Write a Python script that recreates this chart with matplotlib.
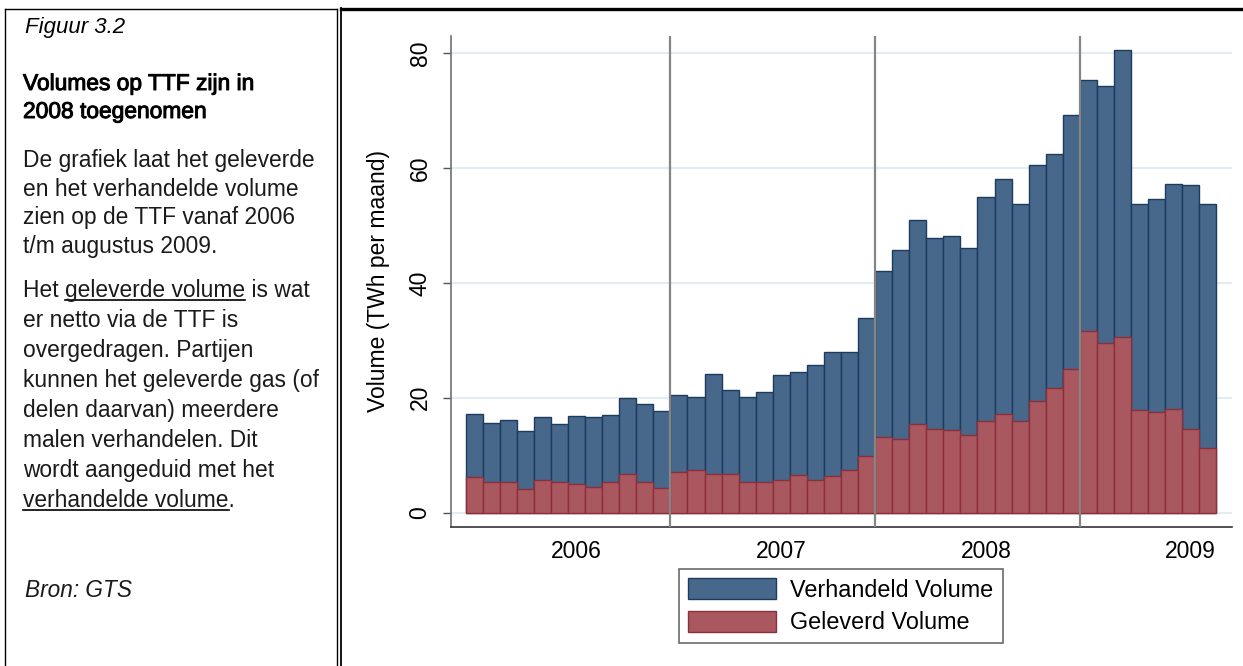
import numpy as np
import matplotlib
matplotlib.use("Agg")
import matplotlib.pyplot as plt
import matplotlib.patheffects as pe
from matplotlib import font_manager
from matplotlib.lines import Line2D

# monthly volumes (TWh per maand), Jan 2006 - Aug 2009
verhandeld = [17.1, 15.6, 16.2, 14.3, 16.7, 15.5, 16.9, 16.7, 17.0, 19.9, 18.9, 17.7,
              20.4, 20.1, 24.1, 21.4, 20.1, 21.0, 23.9, 24.5, 25.7, 28.0, 28.0, 33.9,
              42.0, 45.8, 50.9, 47.9, 48.2, 46.1, 55.0, 58.1, 53.7, 60.5, 62.5, 69.3,
              75.3, 74.3, 80.5, 53.7, 54.7, 57.3, 57.0, 53.8]
geleverd = [6.2, 5.4, 5.4, 4.1, 5.7, 5.3, 5.0, 4.4, 5.4, 6.8, 5.4, 4.3,
            7.0, 7.5, 6.8, 6.8, 5.4, 5.4, 5.7, 6.6, 5.6, 6.3, 7.5, 9.9,
            13.1, 12.8, 15.5, 14.6, 14.4, 13.6, 15.9, 17.2, 15.9, 19.5, 21.7, 25.1,
            31.6, 29.5, 30.5, 17.8, 17.5, 18.1, 14.6, 11.3]
years = ["2006", "2007", "2008", "2009"]
yticks = [0, 20, 40, 60, 80]

W, H = 1243, 666


def fx(px):
    return px / W


def fy(py):
    return 1 - py / H


names = {f.name for f in font_manager.fontManager.ttflist}
if "Liberation Sans Narrow" in names:
    side_font, side_size = "Liberation Sans Narrow", 20
else:
    side_font, side_size = "Liberation Sans", 16.4

fig = plt.figure(figsize=(W / 100, H / 100), dpi=100)
ax = fig.add_axes([fx(451), fy(527), fx(1232) - fx(451), fy(36) - fy(527)])

x = np.arange(len(verhandeld))
b1 = ax.bar(x, verhandeld, width=1, align="edge", color="#47688a",
            edgecolor="#1d3a5f", linewidth=1, label="Verhandeld Volume", zorder=2)
b2 = ax.bar(x, geleverd, width=1, align="edge", color="#aa5860",
            edgecolor="#8c2f3b", linewidth=1, label="Geleverd Volume", zorder=3)

# year boundaries
for xv in np.arange(12, len(x), 12):
    ax.axvline(xv, color="#858585", lw=1.6, zorder=4)

ax.set_xlim(-0.86, 44.92)
ax.set_ylim(-2.5, 83)
ax.set_yticks(yticks)
ax.set_xticks(np.arange(len(years)) * 12 + 6.5)
ax.set_xticklabels(years)
ax.tick_params(axis="x", length=0, pad=9, labelsize=16.5)
ax.tick_params(axis="y", length=6, width=1, color="#555555", pad=8, labelsize=16.5)
plt.setp(ax.get_yticklabels(), rotation=90, va="center")
for lab in ax.get_xticklabels() + ax.get_yticklabels():
    lab.set_fontfamily("Liberation Sans")
ax.yaxis.grid(True, color="#e3ecf0", lw=1.5)
ax.set_axisbelow(True)
for s in ["top", "right"]:
    ax.spines[s].set_visible(False)
ax.spines["left"].set_color("#6f6f6f")
ax.spines["left"].set_linewidth(1.2)
ax.spines["bottom"].set_color("#333333")
ax.spines["bottom"].set_linewidth(1.2)
ax.set_ylabel("Volume (TWh per maand)", fontsize=16.5, family="Liberation Sans", labelpad=13)

leg = fig.legend(handles=[b1, b2], loc="upper center", bbox_to_anchor=(fx(841), fy(569)),
                 prop={"family": "Liberation Sans", "size": 16.8}, frameon=True, fancybox=False,
                 edgecolor="#444444", handlelength=3.75, handleheight=1.0,
                 handletextpad=0.62, labelspacing=0.38, borderpad=0.4, borderaxespad=0)
leg.get_frame().set_linewidth(1.2)

# panel frames
frame = [((5, 337), (9, 9), 1.0), ((5, 5), (9, 666), 1.0), ((337, 337), (9, 666), 1.0),
         ((341, 1243), (8.5, 8.5), 2.4), ((341, 341), (8, 666), 1.3)]
for xs, ys, lw in frame:
    fig.add_artist(Line2D([fx(xs[0]), fx(xs[1])], [fy(ys[0]), fy(ys[1])],
                          transform=fig.transFigure, color="black", lw=lw))

# side text: (text, baseline px, family, style, size)
body = (side_font, "normal", side_size)
side = [("Figuur 3.2", 33, "Liberation Sans", "italic", 16),
        ("Volumes op TTF zijn in", 90) + body,
        ("2008 toegenomen", 118) + body,
        ("De grafiek laat het geleverde", 167) + body,
        ("en het verhandelde volume", 195.5) + body,
        ("zien op de TTF vanaf 2006", 224) + body,
        ("t/m augustus 2009.", 252.5) + body,
        ("Het geleverde volume is wat", 297) + body,
        ("er netto via de TTF is", 327) + body,
        ("overgedragen. Partijen", 357) + body,
        ("kunnen het geleverde gas (of", 387) + body,
        ("delen daarvan) meerdere", 417) + body,
        ("malen verhandelen. Dit", 447) + body,
        ("wordt aangeduid met het", 477) + body,
        ("verhandelde volume.", 507) + body,
        ("Bron: GTS", 597, "Liberation Sans", "italic", 16.3)]
texts = []
for i, (s, yb, fam, style, size) in enumerate(side):
    col = "black" if yb < 120 else "#1a1a1a"
    t = fig.text(fx(25 if style == "italic" else 23), fy(yb), s, va="baseline", ha="left",
                 family=fam, style=style, fontsize=size, color=col)
    if i in (1, 2):
        # title is a little heavier than the body text
        t.set_path_effects([pe.withStroke(linewidth=0.7, foreground="black")])
    texts.append((t, yb))

renderer = fig.canvas.get_renderer()


def width(s, t):
    tmp = fig.text(0, 0, s, fontproperties=t.get_fontproperties())
    w = tmp.get_window_extent(renderer).width
    tmp.remove()
    return w


for idx, prefix, word in [(7, "Het ", "geleverde volume"), (14, "", "verhandelde volume")]:
    t, yb = texts[idx]
    x0 = t.get_window_extent(renderer).x0
    start = x0 + width(prefix + word, t) - width(word, t)
    end = start + width(word, t)
    fig.add_artist(Line2D([start / W, end / W], [fy(yb + 3), fy(yb + 3)],
                          transform=fig.transFigure, color="black", lw=1.2))

fig.savefig("out.png", dpi=100)
